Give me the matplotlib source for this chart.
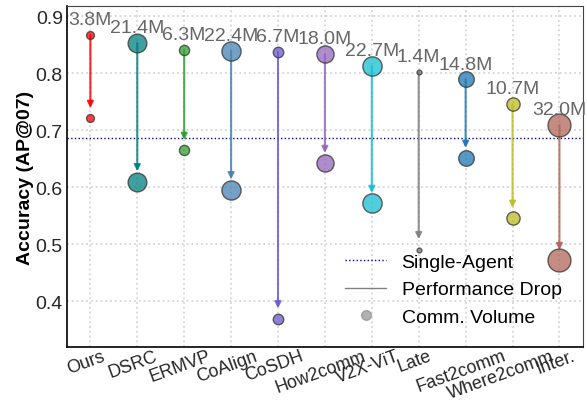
import numpy as np
import matplotlib.pyplot as plt
import matplotlib.transforms as mtransforms
from matplotlib.lines import Line2D

plt.rcParams['font.family'] = ['Liberation Sans', 'DejaVu Sans']

methods = ['Ours', 'DSRC', 'ERMVP', 'CoAlign', 'CoSDH', 'How2comm',
           'V2X-ViT', 'Late', 'Fast2comm', 'Where2comm', 'Inter.']
ap_clean = [0.867, 0.853, 0.840, 0.839, 0.837, 0.833, 0.812, 0.802, 0.789, 0.746, 0.709]
ap_noisy = [0.721, 0.610, 0.665, 0.596, 0.370, 0.642, 0.572, 0.491, 0.651, 0.546, 0.472]
comm_mb = [3.8, 21.4, 6.3, 22.4, 6.7, 18.0, 22.7, 1.4, 14.8, 10.7, 32.0]
single_agent = 0.686
colors = ['red', 'teal', 'tab:green', 'steelblue', 'slateblue', 'tab:purple',
          'tab:cyan', 'tab:gray', 'tab:blue', 'tab:olive', '#b0665a']

fig = plt.figure(figsize=(5.87, 4.02), dpi=100)
ax = fig.add_axes([0.114, 0.134, 0.879, 0.849])

x = np.arange(len(methods))
sizes = np.array(comm_mb) * 8.5

for i in range(len(methods)):
    ax.annotate('', xy=(x[i], ap_noisy[i] + 0.018), xytext=(x[i], ap_clean[i]),
                arrowprops=dict(arrowstyle='-|>', color=colors[i], lw=1.5,
                                alpha=0.85, mutation_scale=9, shrinkA=0, shrinkB=0),
                zorder=2)
    ax.scatter([x[i], x[i]], [ap_clean[i], ap_noisy[i]], s=sizes[i], color=colors[i],
               alpha=0.75, edgecolor='#333333', linewidth=1, zorder=3)
    ax.annotate(f'{comm_mb[i]:.1f}M', (x[i], ap_clean[i]), xytext=(0, 5),
                textcoords='offset points', ha='center', va='bottom',
                fontsize=14, color='#666666')

ax.axhline(single_agent, color='darkblue', ls=':', lw=1, zorder=1)

ax.set_xlim(-0.5, 10.5)
ax.set_ylim(0.32, 0.918)
ax.set_yticks([0.4, 0.5, 0.6, 0.7, 0.8, 0.9])
ax.set_xticks(x)
ax.set_xticklabels([])
# tick labels drawn as texts so they can be nudged left a little
for i, name in enumerate(methods):
    dx = -8 if name == 'Where2comm' else -3
    tr = mtransforms.offset_copy(ax.get_xaxis_transform(), fig=fig, x=dx, y=0, units='points')
    ax.text(x[i], 0, name, transform=tr, rotation=20, ha='center', va='top',
            fontsize=13, color='#262626', clip_on=False)
ax.tick_params(axis='y', labelsize=14, length=0, pad=3, labelcolor='#262626')
ax.tick_params(axis='x', length=0)
ax.set_ylabel('Accuracy (AP@07)', fontsize=14, fontweight='bold', labelpad=1)
ax.grid(True, color='#d5d5d5', ls=':', lw=1.3)
ax.set_axisbelow(True)
for side in ['left', 'bottom']:
    ax.spines[side].set_color('black')
    ax.spines[side].set_linewidth(1.2)
for side in ['top', 'right']:
    ax.spines[side].set_color('#444444')

handles = [Line2D([], [], color='darkblue', ls=':', lw=1),
           Line2D([], [], color='gray', lw=1),
           Line2D([], [], color='gray', marker='o', ls='', alpha=0.6, markersize=7)]
ax.legend(handles, ['Single-Agent', 'Performance Drop', 'Comm. Volume'],
          loc='lower right', frameon=False, fontsize=14, handlelength=2.1,
          labelspacing=0.5, borderaxespad=0.7)

fig.savefig('out.png')
